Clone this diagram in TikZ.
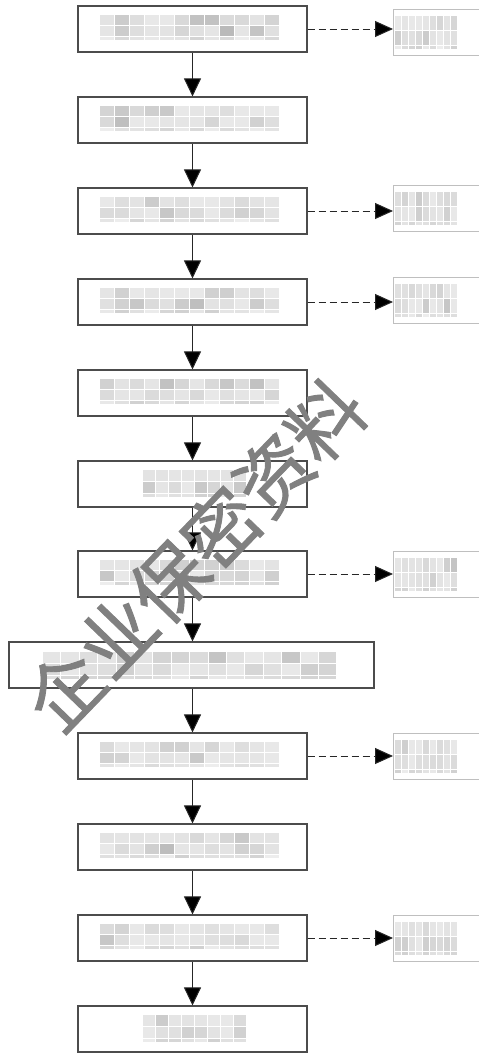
\documentclass[tikz,border=0pt]{standalone}
\usepackage{fontspec}
\newfontfamily\cjk[FakeBold=1.2]{Noto Sans CJK SC}
\usetikzlibrary{arrows.meta}
\tikzset{
  mainbox/.style={draw=black!70, line width=1.1pt, fill=white, minimum width=229pt, minimum height=46pt, inner sep=0pt},
  widebox/.style={mainbox, minimum width=365pt},
  sidebox/.style={draw=black!25, line width=0.8pt, fill=white, minimum width=110pt, minimum height=46pt, inner sep=0pt, anchor=west},
  flow/.style={draw=black!85, line width=1pt, -{Triangle[length=18pt,width=17pt,fill=black]}},
  side/.style={draw=black!85, line width=1pt, dash pattern=on 7pt off 4pt, -{Triangle[length=18pt,width=16pt,fill=black]}},
  watermark/.style={text=black!50, font=\cjk\fontsize{75}{75}\selectfont, rotate=46, inner sep=0pt}
}
% #1 x0, #2 y0, #3 cols, #4 cell width, #5 cell height
\newcommand\mosaicblk[5]{%
  \foreach \i in {1,...,#3}{%
    \foreach \j in {0,1}{%
      \pgfmathtruncatemacro\shd{9+20*rnd*rnd}%
      \fill[black!\shd] ({#1+(\i-1)*#4},{#2+\j*#5}) rectangle ++({#4-1},{#5-1});
    }%
    \pgfmathtruncatemacro\shd{7+12*rnd}%
    \fill[black!\shd] ({#1+(\i-1)*#4},{#2+2*#5}) rectangle ++({#4-1},3);
  }%
}
\begin{document}
\begin{tikzpicture}[x=1pt,y=-1pt]
\pgfmathsetseed{7}
\useasboundingbox (0,0) rectangle (479,1055);
\clip (0,0) rectangle (479,1055);
\fill[white] (0,0) rectangle (479,1055);
% main boxes
\foreach \k/\yy in {1/29,2/120,3/211,4/302,5/393,6/484,7/574,9/756,10/847,11/938,12/1029}{
  \node[mainbox] (m\k) at (192.5,\yy) {};
}
\node[widebox] (m8) at (191.5,665) {};
% side boxes
\foreach \k/\yy in {1/32,3/208,4/300,7/574,9/756,11/938}{
  \node[sidebox] (r\k) at (393,\yy) {};
}
% mosaics (pixelated text)
\foreach \yy in {29,120,211,302,393,574,756,847,938}{
  \mosaicblk{100}{\yy-14}{12}{15}{11}
}
\mosaicblk{143}{470}{8}{13}{12}
\mosaicblk{143}{1015}{8}{13}{12}
\mosaicblk{43}{652}{16}{18.4}{12}
\foreach \yy in {32,208,300,574,756,938}{
  \mosaicblk{395}{\yy-16}{9}{7}{15}
}
% flow arrows
\foreach \a/\b in {1/2,2/3,3/4,4/5,5/6,6/7,7/8,8/9,9/10,10/11,11/12}{
  \draw[flow] (m\a.south -| 192.5,0) -- (m\b.north -| 192.5,0);
}
\foreach \k in {1,3,4,7,9,11}{
  \draw[side] (m\k.east) -- (r\k.west |- m\k.east);
}
% watermark
\node[watermark] (wm) at (195,555) {企业保密资料};
\end{tikzpicture}
\end{document}
